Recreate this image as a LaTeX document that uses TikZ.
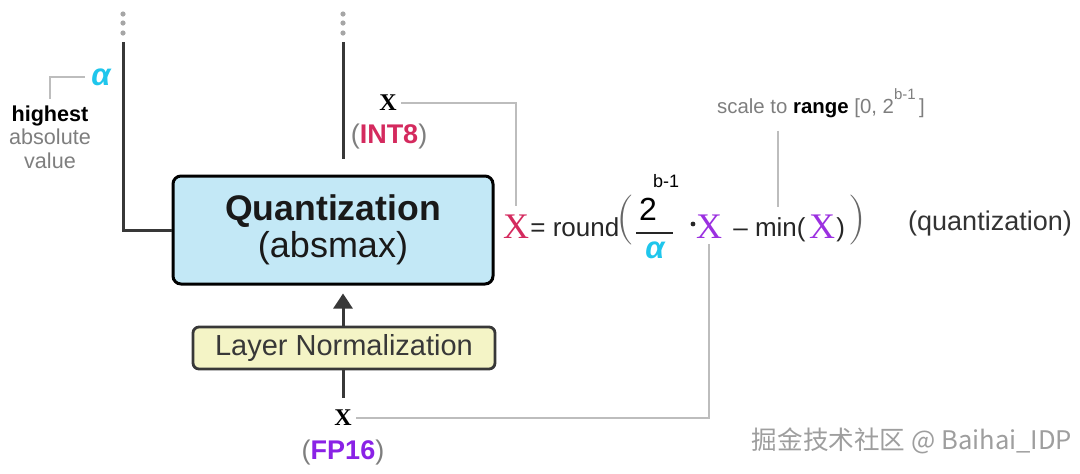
\documentclass[tikz,border=0pt]{standalone}
\usepackage{fontspec}
\setmainfont{Liberation Sans}
\newfontfamily\xfont{Liberation Serif}
\newfontfamily\thinfont{Latin Modern Roman}
\newfontfamily\cjkfont{Noto Sans CJK SC}
\usetikzlibrary{arrows.meta,positioning,calc}

\definecolor{boxblue}{HTML}{C3E8F6}
\definecolor{boxyellow}{HTML}{F4F4C6}
\definecolor{alphacyan}{HTML}{1FC6EC}
\definecolor{int8red}{HTML}{D42A5E}
\definecolor{fp16purple}{HTML}{8A22E6}
\definecolor{xpurple}{HTML}{9B30E0}
\definecolor{notegray}{HTML}{BDBDBD}
\definecolor{textgray}{HTML}{7E7E7E}
\definecolor{flowgray}{HTML}{383838}

\tikzset{
  quantbox/.style={draw=black, line width=1.5pt, rounded corners=4pt, fill=boxblue,
    minimum width=160pt, minimum height=54pt, align=center, text=black!90},
  normbox/.style={draw=flowgray, line width=1.4pt, rounded corners=3pt, fill=boxyellow,
    minimum width=151pt, minimum height=21pt, inner sep=0pt, text=flowgray,
    font=\fontsize{14.5}{14.5}\selectfont},
  flow/.style={draw=flowgray, line width=1.5pt},
  note/.style={draw=notegray, line width=0.6pt},
  varx/.style={font=\xfont\bfseries\fontsize{12}{12}\selectfont, inner sep=1pt},
  dtype/.style={font=\bfseries\fontsize{13.5}{13.5}\selectfont, inner sep=1pt},
  formula/.style={font=\fontsize{13}{13}\selectfont, anchor=base, inner sep=0pt, text=black!85},
  fx/.style={font=\xfont\fontsize{18}{18}\selectfont, anchor=base, inner sep=1pt},
  bigpar/.style={font=\thinfont\fontsize{25}{25}\selectfont, text=black!60, inner sep=0pt},
  dots/.style={fill=black!35}
}

\begin{document}
\begin{tikzpicture}[x=0.5pt, y=-0.5pt]
  \useasboundingbox (0,0) rectangle (1080,473);

  % main blocks
  \node[quantbox] (Q) at (333,230)
    {{\fontsize{17.8}{20}\selectfont\bfseries Quantization}\\[1pt]
     {\fontsize{18}{20}\selectfont (absmax)}};
  \node[normbox] (LN) at (344,348) {Layer Normalization};

  % input and output
  \node[varx] (xin) at (343,418) {X};
  \node[dtype] (fp) at (343,452) {\textcolor{textgray}{\mdseries(}\textcolor{fp16purple}{FP16}\textcolor{textgray}{\mdseries)}};
  \node[varx] (xout) at (388,103) {X};
  \node[dtype] (int) at (389,137) {\textcolor{textgray}{\mdseries(}\textcolor{int8red}{INT8}\textcolor{textgray}{\mdseries)}};

  \coordinate (top1) at (123,42);
  \coordinate (top2) at (343,42);
  \foreach \x in {123,343}
    \foreach \y in {14,23,33}
      \fill[dots] (\x,\y) circle (1.3pt);

  \draw[flow] (Q.west) -| (top1);
  \draw[flow] ($(Q.north -| top2)+(0,-16)$) -- (top2);
  \draw[flow, -{Triangle[length=7.5pt,width=9.5pt]}, shorten >=4pt] (LN.north -| top2) -- (Q.south -| top2);
  \draw[flow, shorten <=5pt] (xin.north) -- (xin.north |- LN.south);

  % alpha annotation
  \node[text=alphacyan, font=\bfseries\itshape\fontsize{15.5}{15.5}\selectfont, inner sep=1pt] (alpha) at (101,77) {α};
  \node[align=center, font=\fontsize{10.8}{11.75}\selectfont, inner sep=1pt] (hl) at (50,137)
    {\textbf{highest}\\\textcolor{textgray}{absolute}\\\textcolor{textgray}{value}};
  \draw[note, shorten <=2pt, shorten >=2pt] (alpha.west) -| (hl.north);

  % formula
  \node[fx, text=int8red] (xq) at (516,238) {X};
  \node[formula, anchor=base west] (eq) at (530,236) {= round};
  \node[bigpar] (lp) at (625,220) {(};
  \node[font=\fontsize{16}{16}\selectfont, inner sep=0pt] (two) at (648,209) {2};
  \node[font=\fontsize{9}{9}\selectfont, inner sep=0pt] (sup) at (666,181) {b-1};
  \draw[line width=0.9pt, black!85] (636,233) -- (673,233);
  \node[text=alphacyan, font=\bfseries\itshape\fontsize{15.5}{15.5}\selectfont, inner sep=0pt] (alpha2) at (655,250) {α};
  \fill[black!85] (693,224) circle (1.2pt);
  \node[fx, text=xpurple] (xp) at (709,238) {X};
  \node[formula, anchor=base east] (minx) at (806,236) {– min(};
  \node[fx, text=xpurple] (xm) at (822,238) {X};
  \node[formula, anchor=base west] (rp1) at (836,236) {)};
  \node[bigpar] (rp) at (857,220) {)};
  \node[font=\fontsize{13.5}{13.5}\selectfont, text=black!80] (quant) at (990,224) {(quantization)};

  \node[font=\fontsize{10.2}{10.2}\selectfont, text=textgray] (range) at (821,103)
    {scale to \textcolor{black}{\textbf{range}} [0, 2\raisebox{7pt}{\fontsize{7.5}{7.5}\selectfont b-1}\,]};

  % annotation lines
  \draw[note, shorten <=1pt, shorten >=3pt] (xout.east) -| (xq.north);
  \draw[note, shorten <=3pt, shorten >=5pt] ([xshift=-21.5pt]range.south) -- ([xshift=-21.5pt]range.south |- minx.north);
  \draw[note, shorten <=2pt, shorten >=1pt] (xp.south) |- (xin.east);

  % watermark
  \node[font=\cjkfont\fontsize{12.8}{12.8}\selectfont, text=black!38] (wm) at (912,441) {掘金技术社区 @ Baihai\_IDP};
\end{tikzpicture}
\end{document}
